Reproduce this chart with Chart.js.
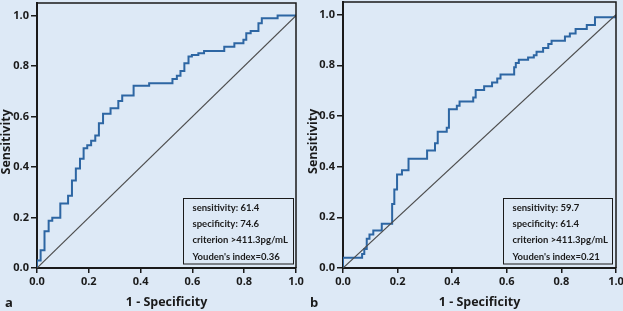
<!DOCTYPE html>
<html><head><meta charset="utf-8">
<script src="https://cdn.jsdelivr.net/npm/chart.js@4"></script>
<style>
html,body{margin:0;padding:0;background:#dde9f6;width:623px;height:311px;overflow:hidden;position:relative;}
canvas{position:absolute;top:0;}
#ca{left:0;}
#cb{left:306px;}
</style></head><body>
<canvas id="ca" width="311" height="311"></canvas>
<canvas id="cb" width="330" height="311"></canvas>
<script>
// ---- data ----
const xTicks = [0, 0.2, 0.4, 0.6, 0.8, 1.0];
const xTickLabels = ['0.0', '0.2', '0.4', '0.6', '0.8', '1.0'];
const yTicks = [0, 0.2, 0.4, 0.6, 0.8, 1.0];
const yTickLabels = ['0.0', '0.2', '0.4', '0.6', '0.8', '1.0'];
const xTitle = '1 - Specificity';
const yTitle = 'Sensitivity';
const panelLabels = ['a', 'b'];

const fprA = [0, 0, 0.014, 0.029, 0.045, 0.059, 0.090, 0.120, 0.135, 0.150, 0.166, 0.180, 0.194, 0.209, 0.225, 0.239, 0.255, 0.284, 0.314, 0.329, 0.373, 0.433, 0.523, 0.540, 0.554, 0.569, 0.585, 0.598, 0.623, 0.645, 0.723, 0.762, 0.797, 0.808, 0.825, 0.855, 0.868, 0.929, 1.0];
const sensA = [0, 0.030, 0.070, 0.146, 0.187, 0.199, 0.256, 0.286, 0.347, 0.394, 0.433, 0.474, 0.486, 0.504, 0.525, 0.574, 0.611, 0.633, 0.662, 0.683, 0.722, 0.732, 0.749, 0.762, 0.781, 0.811, 0.838, 0.844, 0.851, 0.860, 0.877, 0.891, 0.904, 0.930, 0.939, 0.970, 0.990, 1.0, 1.0];

const fprB = [0, 0, 0.070, 0.078, 0.087, 0.097, 0.111, 0.142, 0.180, 0.188, 0.198, 0.216, 0.240, 0.308, 0.337, 0.347, 0.380, 0.388, 0.417, 0.427, 0.477, 0.486, 0.517, 0.546, 0.565, 0.577, 0.627, 0.633, 0.644, 0.678, 0.699, 0.709, 0.733, 0.752, 0.764, 0.813, 0.831, 0.852, 0.893, 0.923, 1.0];
const sensB = [0, 0.040, 0.055, 0.075, 0.115, 0.132, 0.148, 0.175, 0.253, 0.310, 0.369, 0.386, 0.431, 0.464, 0.492, 0.538, 0.554, 0.627, 0.640, 0.657, 0.673, 0.703, 0.717, 0.732, 0.748, 0.764, 0.792, 0.809, 0.822, 0.831, 0.840, 0.854, 0.868, 0.884, 0.897, 0.914, 0.926, 0.943, 0.959, 0.990, 1.0];

const refX = [0, 1];
const refY = [0, 1];

const statsA = ['sensitivity: 61.4', 'specificity: 74.6', 'criterion >411.3pg/mL', "Youden's index=0.36"];
const statsB = ['sensitivity: 59.7', 'specificity: 61.4', 'criterion >411.3pg/mL', "Youden's index=0.21"];

// ---- drawing ----
const BG = '#dde9f6';
const INK = '#1a1a1a';
const FONT = '"Open Sans", "DejaVu Sans", sans-serif';
const BOXFONT = 'Lato, "Open Sans", sans-serif';

const decor = {
  id: 'decor',
  afterDraw(chart, args, o) {
    const {ctx, chartArea: a, scales: {x, y}} = chart;
    ctx.save();
    // top & right frame
    ctx.strokeStyle = INK; ctx.lineWidth = 1.5;
    ctx.beginPath();
    ctx.moveTo(a.left, a.top); ctx.lineTo(a.right, a.top); ctx.lineTo(a.right, a.bottom);
    ctx.stroke();
    // stats box
    const bw = o.boxW, bh = 65.5;
    const bx = Math.round(a.right - o.boxRight - bw) + 0.5;
    const by = Math.round(a.bottom - 5 - bh) + 0.5;
    ctx.fillStyle = BG; ctx.fillRect(bx, by, bw, bh);
    ctx.lineWidth = 1; ctx.strokeStyle = INK; ctx.strokeRect(bx, by, bw, bh);
    ctx.fillStyle = INK;
    ctx.font = 'bold 9.5px ' + BOXFONT;
    ctx.textBaseline = 'middle'; ctx.textAlign = 'left';
    o.stats.forEach((t, i) => ctx.fillText(t, bx + 9, by + 9 + i * 16.4));
    // axis titles
    ctx.font = 'bold 12.5px ' + FONT;
    ctx.textAlign = 'center';
    ctx.fillText(xTitle, x.getPixelForValue(0.5), 302.5);
    ctx.save();
    ctx.translate(o.yTitleX, y.getPixelForValue(0.5));
    ctx.rotate(-Math.PI / 2);
    ctx.fillText(yTitle, 0, 0);
    ctx.restore();
    // panel label
    ctx.font = 'bold 13px ' + FONT;
    ctx.textAlign = 'left'; ctx.textBaseline = 'alphabetic';
    ctx.fillText(o.label, o.labelX, 306.5);
    ctx.restore();
  }
};

function makeChart(id, fpr, sens, stats, label, opts) {
  const roc = fpr.map((v, i) => ({x: v, y: sens[i]}));
  const ref = refX.map((v, i) => ({x: v, y: refY[i]}));
  return new Chart(document.getElementById(id), {
    type: 'line',
    data: {
      datasets: [
        {data: ref, borderColor: '#4d4d4d', borderWidth: 1.2, pointRadius: 0, fill: false},
        {data: roc, borderColor: '#2d66a3', borderWidth: 2, pointRadius: 0, stepped: 'before', fill: false}
      ]
    },
    plugins: [decor],
    options: {
      responsive: false, animation: false, devicePixelRatio: 1,
      layout: {padding: {left: 0, top: opts.top, right: opts.right, bottom: 0}},
      plugins: {
        legend: {display: false}, tooltip: {enabled: false},
        decor: {stats: stats, label: label, labelX: opts.labelX, yTitleX: opts.yTitleX, boxW: opts.boxW, boxRight: opts.boxRight}
      },
      scales: {
        x: {
          type: 'linear', min: 0, max: 1,
          afterBuildTicks: s => { s.ticks = xTicks.map(v => ({value: v})); },
          afterFit: s => { s.height = 43; s.paddingLeft = 0; s.paddingRight = 0; },
          ticks: {callback: (v, i) => xTickLabels[i], color: INK, font: {family: FONT, size: 11, weight: 'bold'}, padding: 2, maxRotation: 0},
          grid: {drawOnChartArea: false, drawTicks: true, tickLength: 5, color: INK, lineWidth: 1.5},
          border: {display: true, color: INK, width: 2}
        },
        y: {
          type: 'linear', min: 0, max: 1.05,
          afterBuildTicks: s => { s.ticks = yTicks.map(v => ({value: v})); },
          afterFit: s => { s.width = 37; s.paddingTop = 0; s.paddingBottom = 0; },
          ticks: {callback: (v, i) => yTickLabels[i], color: INK, font: {family: FONT, size: 11, weight: 'bold'}, padding: 2},
          grid: {drawOnChartArea: false, drawTicks: true, tickLength: 6, color: INK, lineWidth: 1.5},
          border: {display: true, color: INK, width: 2}
        }
      }
    }
  });
}

makeChart('ca', fprA, sensA, statsA, panelLabels[0], {top: 3, right: 15, labelX: 5, yTitleX: 6.5, boxW: 110, boxRight: 3.5});
makeChart('cb', fprB, sensB, statsB, panelLabels[1], {top: 2, right: 20, labelX: 4, yTitleX: 7, boxW: 109, boxRight: 4.5});
</script>
</body></html>
